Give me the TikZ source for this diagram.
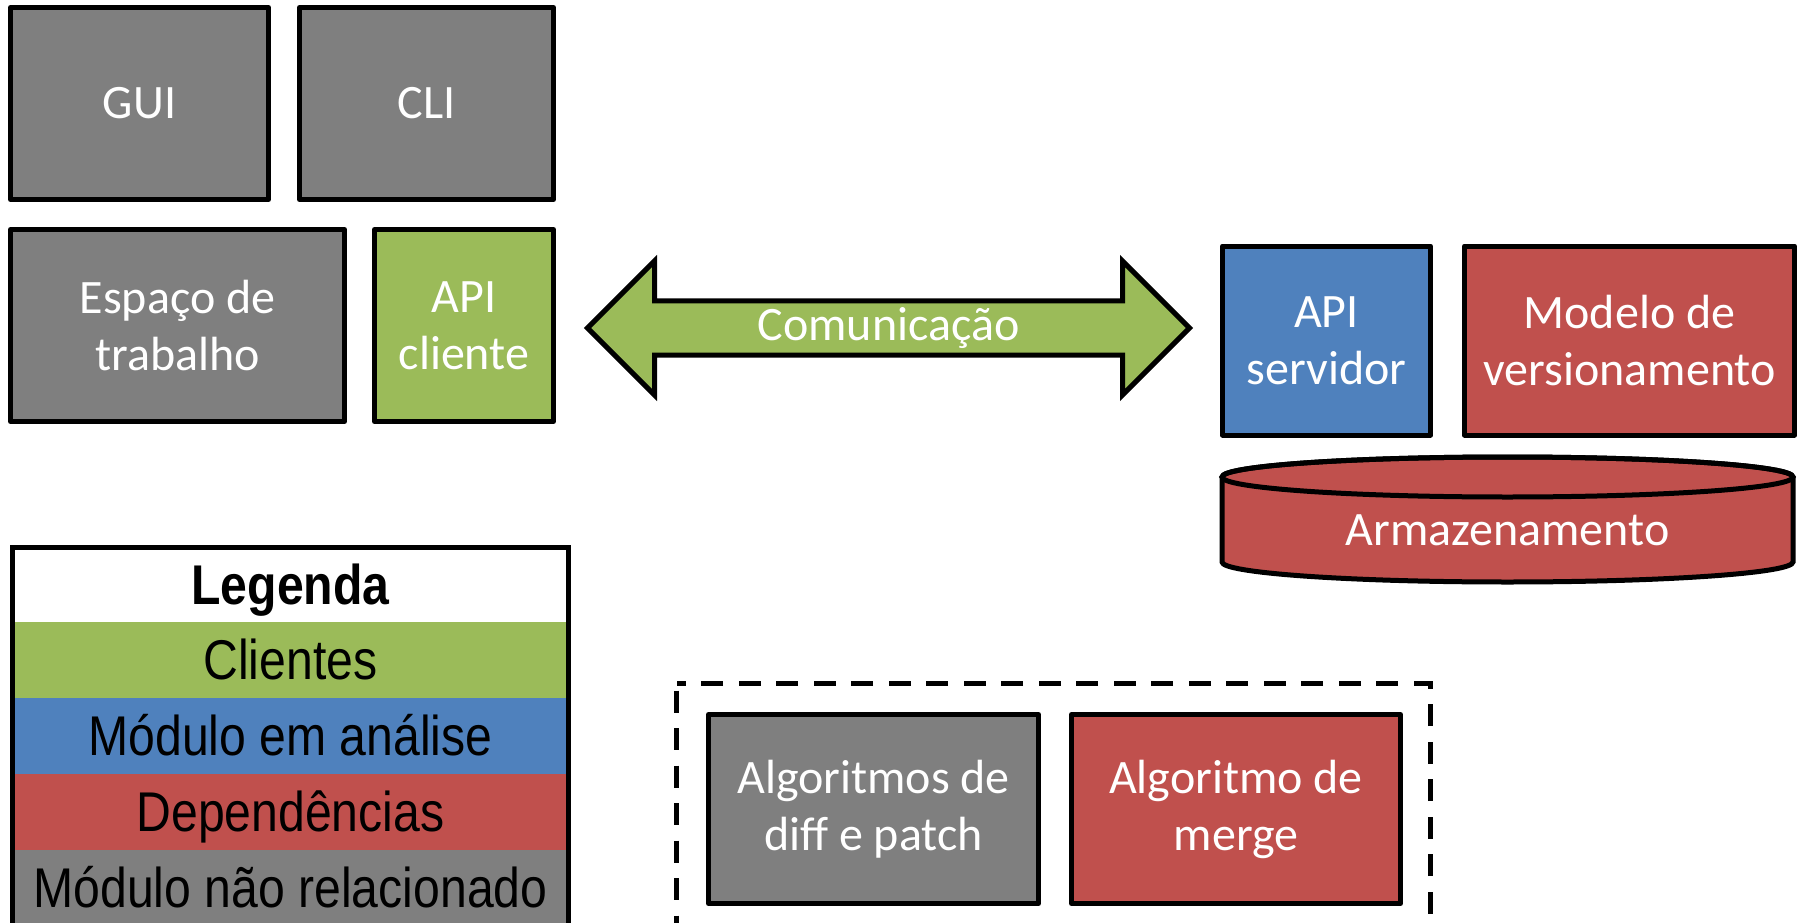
\documentclass[tikz,border=0pt]{standalone}
\usepackage{fontspec}
\setmainfont{Carlito}
\newfontfamily\legfont[FakeStretch=0.86]{Liberation Sans}
\usetikzlibrary{shapes.arrows}
\definecolor{cinza}{RGB}{127,127,127}
\definecolor{verde}{RGB}{155,187,89}
\definecolor{azul}{RGB}{79,129,189}
\definecolor{vermelho}{RGB}{192,80,77}

\begin{document}
\begin{tikzpicture}[x=1pt,y=-1pt,
  modulo/.style={draw=black,line width=5pt,line join=round,text=white,align=center,inner sep=0pt,
    font=\fontsize{48}{57}\selectfont,minimum height=192},
  linha/.style={minimum width=555,minimum height=76,inner sep=0pt,text height=44,text depth=6,
    font=\legfont\fontsize{56}{60}\selectfont}]
\useasboundingbox (0,0) rectangle (1802,923);
\node[modulo,fill=cinza,minimum width=258] (gui) at (139.5,103.5) {GUI};
\node[modulo,fill=cinza,minimum width=254] (cli) at (426.5,103.5) {CLI};
\node[modulo,fill=cinza,minimum width=334] (espaco) at (177.5,325.5) {Espaço de\\trabalho};
\node[modulo,fill=verde,minimum width=179] (apicli) at (464,325.5) {API\\cliente};
\node[double arrow,draw=black,line width=5pt,fill=verde,text=white,inner sep=0pt,
  font=\fontsize{48}{57}\selectfont,minimum width=134,minimum height=602,
  double arrow head extend=34,double arrow tip angle=90] (com) at (888.5,328) {Comunicação};
\node[modulo,fill=azul,minimum width=208,minimum height=189] (apiserv) at (1326.5,340.5) {API\\servidor};
\node[modulo,fill=vermelho,minimum width=330,minimum height=189] (modelo) at (1629.5,340.5) {Modelo de\\versionamento};
\begin{scope}[line width=5pt]
\filldraw[fill=vermelho] (1222,477) -- (1222,562)
  arc[start angle=180,end angle=0,x radius=285.5,y radius=20] -- (1793,477)
  arc[start angle=0,end angle=-180,x radius=285.5,y radius=20] -- cycle;
\draw (1507.5,477) ellipse[x radius=285.5,y radius=20];
\end{scope}
\node[text=white,font=\fontsize{48}{57}\selectfont] (arm) at (1507.5,530) {Armazenamento};
\node[linha,fill=white,minimum height=74] (titulo) at (290.5,585) {\bfseries Legenda};
\node[linha,fill=verde] (clientes) at (290.5,660) {Clientes};
\node[linha,fill=azul] (analise) at (290.5,736) {Módulo em análise};
\node[linha,fill=vermelho] (dep) at (290.5,812) {Dependências};
\node[linha,fill=cinza] (naorel) at (290.5,888) {Módulo não relacionado};
\draw[line width=5pt] (titulo.north west) rectangle (naorel.south east);
\draw[line width=5pt,dash pattern=on 22pt off 15.5pt,dash phase=-7pt] (676.5,683.5) rectangle (1430.5,950);
\node[modulo,fill=cinza,minimum width=330,minimum height=189] (diff) at (873.5,809) {Algoritmos de\\diff e patch};
\node[modulo,fill=vermelho,minimum width=329,minimum height=189] (merge) at (1236,809) {Algoritmo de\\merge};
\end{tikzpicture}
\end{document}
